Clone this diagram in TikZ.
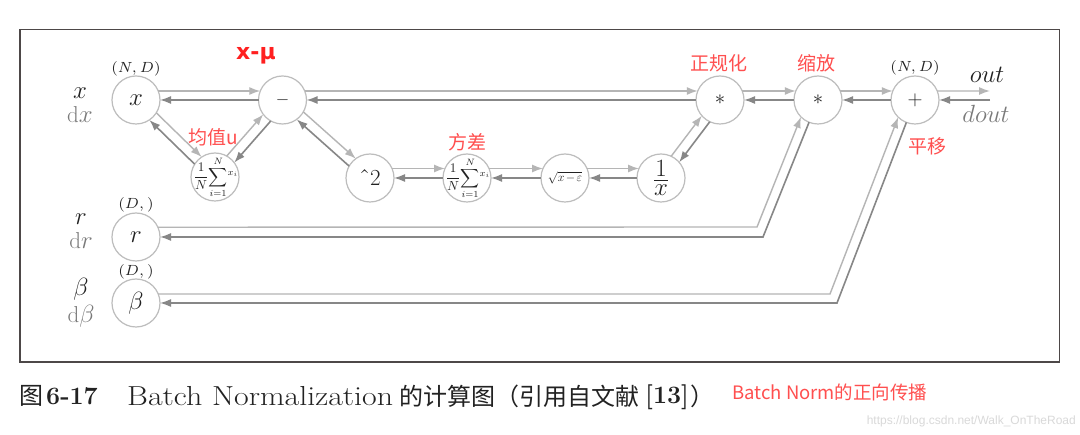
\documentclass[tikz,border=0pt]{standalone}
\usepackage{amsmath}
\usepackage{fontspec}
\usepackage{graphicx}
\newfontfamily\cjk{Noto Sans CJK SC}
\newfontfamily\wmfont{Liberation Sans}
\newfontfamily\djv{DejaVu Sans}
\usetikzlibrary{arrows.meta,calc}
\definecolor{lgray}{HTML}{B5B5B5}
\definecolor{dgray}{HTML}{878787}
\definecolor{ncirc}{HTML}{BDBDBD}
\definecolor{labgray}{HTML}{7A7A7A}
\definecolor{redl}{HTML}{FF4F4F}
\definecolor{redh}{HTML}{FF2020}
\definecolor{framec}{HTML}{4D4848}
\definecolor{inkc}{HTML}{222222}
\tikzset{
 nd/.style={circle,draw=ncirc,line width=1.2pt,minimum size=48pt,inner sep=0pt,outer sep=0pt,text=inkc,font=\fontsize{24}{24}\selectfont},
 la/.style={draw=lgray,line width=1.4pt,-{Latex[length=11pt,width=8pt]}},
 da/.style={draw=dgray,line width=1.6pt,-{Latex[length=11pt,width=8pt]}},
 lbl/.style={font=\fontsize{23}{23}\selectfont,text=inkc,inner sep=0pt},
 lblg/.style={lbl,text=labgray},
 shp/.style={font=\fontsize{7}{8}\selectfont,text=inkc,inner sep=0pt},
 redlbl/.style={font=\cjk\fontsize{19}{19}\selectfont,text=redl,inner sep=0pt},
 sumtxt/.style={inner sep=0pt,text=inkc},
}
\newcommand\meansum{\resizebox{45pt}{!}{$\displaystyle\frac{1}{N}\!\sum_{i=1}^{N}\!{}^{x_i}$}}
% #1 a, #2 b, #3 light offset, #4 dark offset (other side), #5 light shorten, #6 dark shorten
\newcommand\bidir[6]{%
 \draw[la,shorten <=#5pt,shorten >=#5pt] ($(#1)!#3pt!90:(#2)$) -- ($(#2)!#3pt!-90:(#1)$);
 \draw[da,shorten <=#6pt,shorten >=#6pt] ($(#2)!#4pt!90:(#1)$) -- ($(#1)!#4pt!-90:(#2)$);
}
\begin{document}
\begin{tikzpicture}[x=1pt,y=-1pt]
\useasboundingbox (0,0) rectangle (1080,435);
\fill[white] (0,0) rectangle (1080,435);
\draw[framec,line width=1.6pt] (20,29.5) rectangle (1059.5,362);

% nodes
\node[nd] (x) at (136,100) {$x$};
\node[nd] (minus) at (282.5,100) {\fontsize{18}{18}\selectfont$-$};
\node[nd] (sum1) at (215,177) {};
\node[sumtxt] (sum1t) at (216,177) {\meansum};
\node[nd] (sq) at (370,178) {\fontsize{23}{23}\selectfont\symbol{"02C6}2};
\node[nd] (sum2) at (467,178) {};
\node[sumtxt] (sum2t) at (468,178) {\meansum};
\node[nd] (sqrt) at (565,178) {\fontsize{12.5}{14}\selectfont$\sqrt{x\mskip-2mu-\mskip-2mu\varepsilon}$};
\node[nd] (inv) at (661,178) {$\frac{\displaystyle 1}{\displaystyle x}$};
\node[nd] (norm) at (720,100) {\fontsize{20}{20}\selectfont$\ast$};
\node[nd] (scale) at (818,100) {\fontsize{20}{20}\selectfont$\ast$};
\node[nd] (plus) at (915,100) {\fontsize{20}{20}\selectfont$+$};
\node[nd] (r) at (136,237) {$r$};
\node[nd] (beta) at (136,303) {$\beta$};

% left labels
\node[lbl,anchor=base] (lx) at (80,99) {$x$};
\node[lblg,anchor=base] (ldx) at (80,123) {$\mathrm{d}x$};
\node[lbl,anchor=base] (lr) at (81,225) {$r$};
\node[lblg,anchor=base] (ldr) at (81,249) {$\mathrm{d}r$};
\node[lbl,anchor=base] (lb) at (81,296) {$\beta$};
\node[lblg,anchor=base] (ldb) at (81,323) {$\mathrm{d}\beta$};

% shapes
\node[shp] (shx) at (136,68.5) {\scalebox{2.1}{$(N,D)$}};
\node[shp] (shr) at (136,204.5) {\scalebox{2.1}{$(D,)$}};
\node[shp] (shb) at (136,272) {\scalebox{2.1}{$(D,)$}};
\node[shp] (shplus) at (915,67.5) {\scalebox{2.1}{$(N,D)$}};

% out / dout
\node[lbl,anchor=base,font=\fontsize{24}{24}\selectfont] (out) at (987,83) {$out$};
\node[lblg,anchor=base,font=\fontsize{24}{24}\selectfont] (dout) at (986,123) {$dout$};
\coordinate (outend) at (990,91);
\coordinate (doutst) at (990,100);
\draw[la] (plus.22) -- (outend);
\draw[da] (doutst) -- (plus);

% red labels
\node[inner sep=0pt,text=redh,font=\djv\bfseries\fontsize{22}{22}\selectfont] (xmu) at (256,56) {x-μ};
\node[redlbl] (lmean) at (213,137) {均值u};
\node[redlbl] (lvar) at (467,142) {方差};
\node[redlbl] (lnorm) at (719,63) {正规化};
\node[redlbl] (lscale) at (816,63) {缩放};
\node[redlbl] (lshift) at (927,146) {平移};

% connectors
\bidir{x}{minus}{9}{0}{22.25}{24}
\bidir{x}{sum1}{5}{5}{23.5}{23.5}
\bidir{sum1}{minus}{5}{5}{23.5}{23.5}
\bidir{minus}{norm}{9}{0}{22.25}{24}
\bidir{minus}{sq}{5}{5}{23.5}{23.5}
\bidir{sq}{sum2}{9.5}{0}{22}{24}
\bidir{sum2}{sqrt}{9.5}{0}{22}{24}
\bidir{sqrt}{inv}{9.5}{0}{22}{24}
\bidir{inv}{norm}{5}{5}{23.5}{23.5}
\bidir{norm}{scale}{9}{0}{22.25}{24}
\bidir{scale}{plus}{9}{0}{22.25}{24}

% r branch
\coordinate (rcd) at (763,237);
\coordinate (rcl) at (757,227);
\coordinate (rfoot) at ($(scale)!9.5pt!-90:(rcd)$);
\draw[da] (scale) -- (rcd) -- (r);
\draw[la,shorten >=22pt] (r.24.6) -- (rcl) -- (rfoot);

% beta branch
\coordinate (bcd) at (837,303);
\coordinate (bcl) at (830,294);
\coordinate (bfoot) at ($(plus)!9.5pt!-90:(bcd)$);
\draw[da] (plus) -- (bcd) -- (beta);
\draw[la,shorten >=22pt] (beta.22) -- (bcl) -- (bfoot);

% caption
\node[anchor=west,inner sep=0pt,text=inkc] (c1) at (19,396) {\cjk\fontsize{24}{24}\selectfont 图};
\node[anchor=west,inner sep=0pt,text=inkc] (c2) at (46,396) {\fontsize{25}{25}\selectfont\bfseries 6-17};
\node[anchor=west,inner sep=0pt,text=inkc] (c3) at (127,396) {\scalebox{1.16}[1]{\fontsize{27.5}{27.5}\selectfont Batch Normalization}};
\node[anchor=west,inner sep=0pt,text=inkc] (c4) at (399,396) {\cjk\fontsize{24}{24}\selectfont 的计算图（引用自文献};
\node[anchor=west,inner sep=0pt,text=inkc] (c5) at (645,397) {\fontsize{25}{25}\selectfont\bfseries [13]};
\node[anchor=west,inner sep=0pt,text=inkc] (c6) at (690,396) {\cjk\fontsize{24}{24}\selectfont ）};
\node[anchor=west,inner sep=0pt,text=redl] (c7) at (732,392) {\cjk\fontsize{18.5}{18.5}\selectfont Batch Norm的正向传播};
\node[anchor=east,inner sep=0pt,text=black!15] (wm) at (1076,421) {\wmfont\fontsize{12}{12}\selectfont https://blog.csdn.net/Walk\_OnTheRoad};
\end{tikzpicture}
\end{document}
